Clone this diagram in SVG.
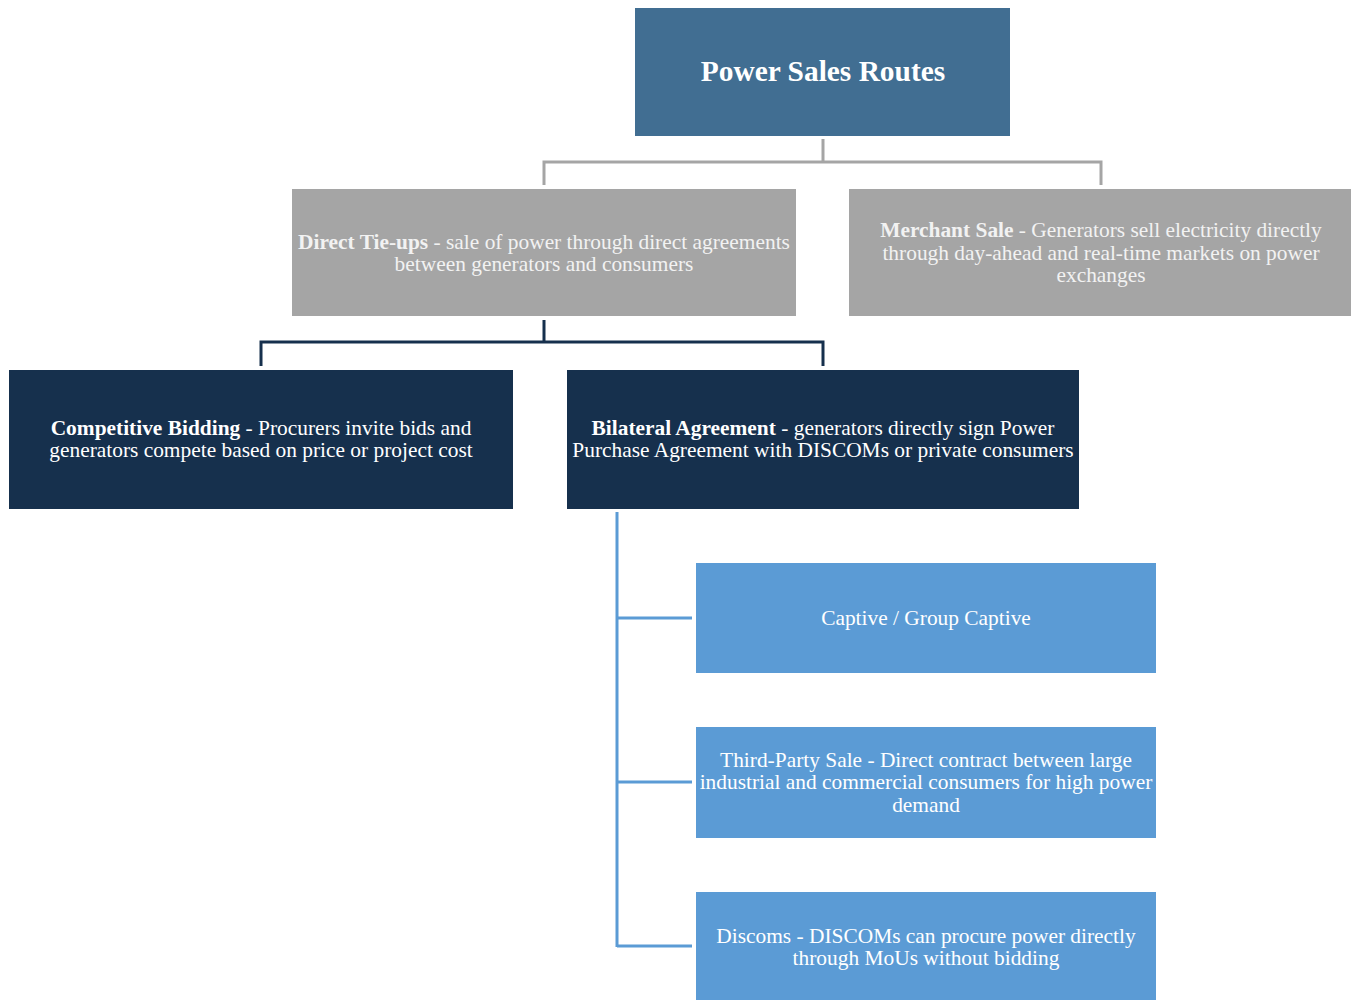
<svg xmlns="http://www.w3.org/2000/svg" width="1351" height="1000" viewBox="0 0 1351 1000">
<style>
text{font-family:"Liberation Serif","Times New Roman",serif;font-size:21.4px;fill:#fff;text-anchor:middle}
.g text{fill:#F2F2F2}
.b{font-weight:bold}
.c{fill:none;stroke-width:3}
</style>
<rect width="1351" height="1000" fill="#fff"/>
<g id="connectors">
<path class="c" stroke="#A5A5A5" d="M823,139V162M544,185V162H1101V185"/>
<path class="c" stroke="#16304D" d="M544,320V342M261,366V342H823V366"/>
<path class="c" stroke="#5B9BD5" d="M617,512V947M617,618H692M617,782H692M617,946H692"/>
</g>
<g id="root">
<rect x="635" y="8" width="375" height="128" fill="#416E92"/>
<text x="823" y="81" class="b" style="font-size:29.4px">Power Sales Routes</text>
</g>
<g id="direct" class="g">
<rect x="292" y="189" width="504" height="127" fill="#A5A5A5"/>
<text x="544" y="249"><tspan class="b">Direct Tie-ups</tspan> - sale of power through direct agreements</text>
<text x="544" y="271">between generators and consumers</text>
</g>
<g id="merchant" class="g">
<rect x="849" y="189" width="502" height="127" fill="#A5A5A5"/>
<text x="1101" y="237"><tspan class="b">Merchant Sale</tspan> - Generators sell electricity directly</text>
<text x="1101" y="260">through day-ahead and real-time markets on power</text>
<text x="1101" y="282">exchanges</text>
</g>
<g id="competitive">
<rect x="9" y="370" width="504" height="139" fill="#16304D"/>
<text x="261" y="435"><tspan class="b">Competitive Bidding</tspan> - Procurers invite bids and</text>
<text x="261" y="457">generators compete based on price or project cost</text>
</g>
<g id="bilateral">
<rect x="567" y="370" width="512" height="139" fill="#16304D"/>
<text x="823" y="435"><tspan class="b">Bilateral Agreement</tspan> - generators directly sign Power</text>
<text x="823" y="457">Purchase Agreement with DISCOMs or private consumers</text>
</g>
<g id="captive">
<rect x="696" y="563" width="460" height="110" fill="#5B9BD5"/>
<text x="926" y="625">Captive / Group Captive</text>
</g>
<g id="thirdparty">
<rect x="696" y="727" width="460" height="111" fill="#5B9BD5"/>
<text x="926" y="767">Third-Party Sale - Direct contract between large</text>
<text x="926" y="789">industrial and commercial consumers for high power</text>
<text x="926" y="812">demand</text>
</g>
<g id="discoms">
<rect x="696" y="892" width="460" height="110" fill="#5B9BD5"/>
<text x="926" y="943">Discoms - DISCOMs can procure power directly</text>
<text x="926" y="965">through MoUs without bidding</text>
</g>
</svg>
